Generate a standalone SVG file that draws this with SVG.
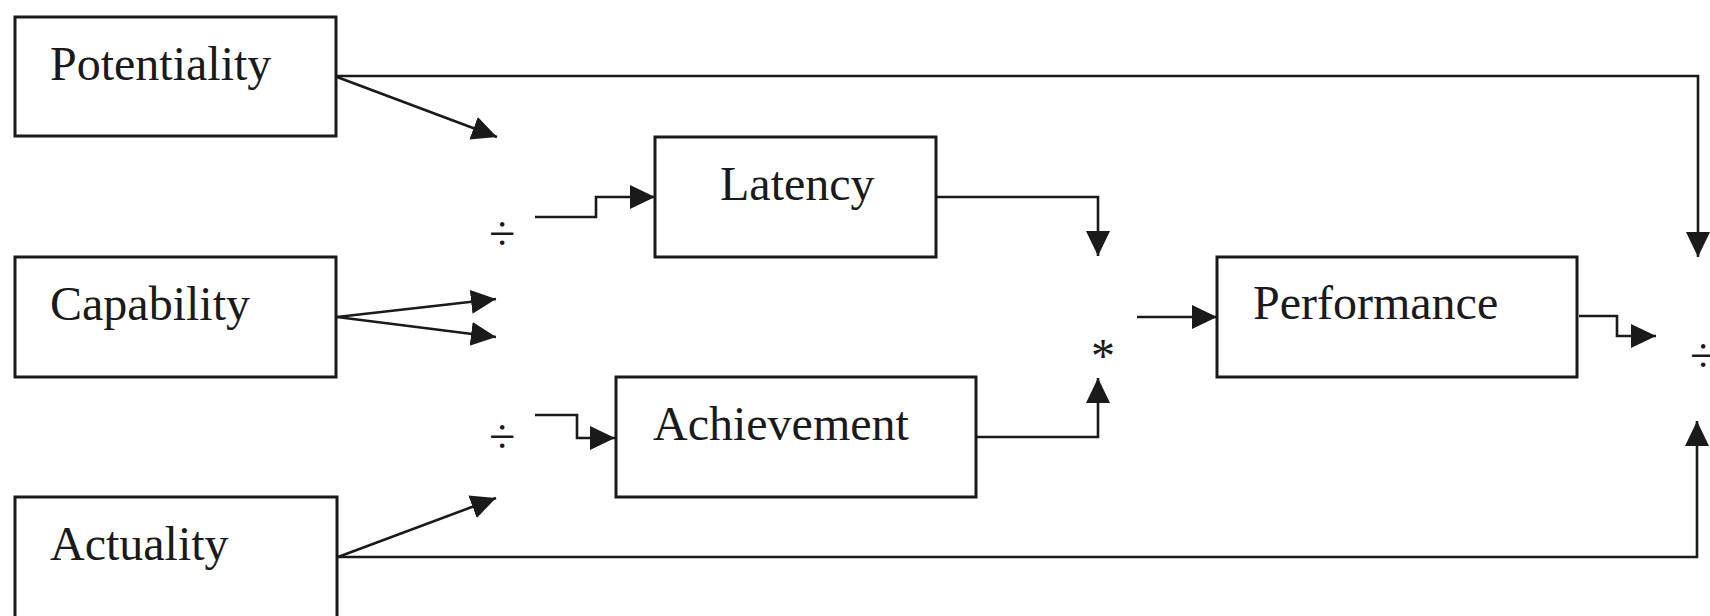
<svg xmlns="http://www.w3.org/2000/svg" width="1710" height="616" viewBox="0 0 1710 616">
  <style>
    .box { fill: #ffffff; stroke: #1a1a1a; stroke-width: 3; }
    .label { font-family: "Liberation Serif", "Times New Roman", serif; font-size: 48px; fill: #1a1a1a; }
    .op { font-family: "Liberation Serif", "Times New Roman", serif; font-size: 48px; fill: #1a1a1a; }
    .wire { fill: none; stroke: #1a1a1a; stroke-width: 2.6; }
    .arrow { marker-end: url(#head); }
  </style>
  <defs>
    <marker id="head" markerUnits="userSpaceOnUse" markerWidth="26" markerHeight="26" refX="25" refY="12" orient="auto">
      <path d="M0,0 L25,12 L0,24 z" fill="#1a1a1a"/>
    </marker>
  </defs>
  <rect width="1710" height="616" fill="#ffffff"/>

  <!-- connectors -->
  <g id="connectors">
    <line class="wire arrow" x1="337" y1="77" x2="497" y2="137"/>
    <polyline class="wire arrow" points="337,76 1698,76 1698,257"/>
    <line class="wire arrow" x1="337" y1="317" x2="496" y2="299"/>
    <line class="wire arrow" x1="337" y1="317" x2="496" y2="337"/>
    <line class="wire arrow" x1="338" y1="557" x2="496" y2="498"/>
    <polyline class="wire arrow" points="338,557 1697,557 1697,421"/>
    <polyline class="wire arrow" points="535,217 596,217 596,197 655,197"/>
    <polyline class="wire arrow" points="535,415 577,415 577,438 615,438"/>
    <polyline class="wire arrow" points="937,197 1098,197 1098,256"/>
    <polyline class="wire arrow" points="977,437 1098,437 1098,378"/>
    <line class="wire arrow" x1="1137" y1="317" x2="1217" y2="317"/>
    <polyline class="wire arrow" points="1579,316 1617,316 1617,336 1656,336"/>
  </g>

  <!-- operators -->
  <g id="operators">
    <text class="op" x="489" y="250">÷</text>
    <text class="op" x="489" y="453">÷</text>
    <text class="op" x="1103" y="372" text-anchor="middle">*</text>
    <text class="op" x="1690" y="372">÷</text>
  </g>

  <!-- nodes -->
  <g id="potentiality">
    <rect class="box" x="15" y="17" width="321" height="119"/>
    <text class="label" x="50" y="80">Potentiality</text>
  </g>
  <g id="capability">
    <rect class="box" x="15" y="257" width="321" height="120"/>
    <text class="label" x="50" y="320">Capability</text>
  </g>
  <g id="actuality">
    <rect class="box" x="15" y="497" width="322" height="130"/>
    <text class="label" x="50" y="560">Actuality</text>
  </g>
  <g id="latency">
    <rect class="box" x="655" y="137" width="281" height="120"/>
    <text class="label" x="720" y="200">Latency</text>
  </g>
  <g id="achievement">
    <rect class="box" x="616" y="377" width="360" height="120"/>
    <text class="label" x="653" y="440">Achievement</text>
  </g>
  <g id="performance">
    <rect class="box" x="1217" y="257" width="360" height="120"/>
    <text class="label" x="1253" y="319">Performance</text>
  </g>
</svg>
